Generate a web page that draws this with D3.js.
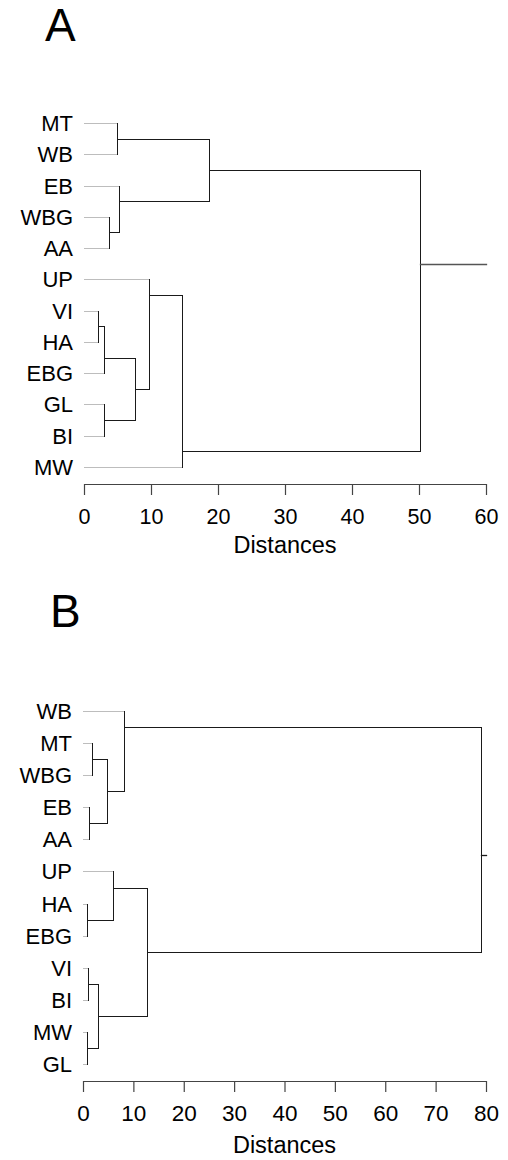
<!DOCTYPE html>
<html>
  <head>
    <script src="https://cdn.jsdelivr.net/npm/d3@7"></script>
    <style>
      body { margin: 0; background: #fff; }
      text { font-family: "Liberation Sans", Arial, sans-serif; fill: #000; }
    </style>
  </head>
  <body>
    <svg id="dendrograms" width="508" height="1160"></svg>
    <script>
      // leaf order as drawn, top to bottom
      var leavesA = ["MT", "WB", "EB", "WBG", "AA", "UP", "VI", "HA", "EBG", "GL", "BI", "MW"];
      // [upper child, lower child, distance] -- a number points to an earlier merge
      var mergesA = [
        ["MT", "WB", 4.9],
        ["WBG", "AA", 3.7],
        ["EB", 1, 5.2],
        [0, 2, 18.6],
        ["VI", "HA", 2.1],
        [4, "EBG", 2.95],
        ["GL", "BI", 3.0],
        [5, 6, 7.6],
        ["UP", 7, 9.65],
        [8, "MW", 14.6],
        [3, 9, 50.1]
      ];
      var ticksA = [0, 10, 20, 30, 40, 50, 60];

      var leavesB = ["WB", "MT", "WBG", "EB", "AA", "UP", "HA", "EBG", "VI", "BI", "MW", "GL"];
      var mergesB = [
        ["MT", "WBG", 1.85],
        ["EB", "AA", 1.25],
        [0, 1, 4.7],
        ["WB", 2, 8.1],
        ["HA", "EBG", 0.75],
        ["UP", 4, 5.9],
        ["VI", "BI", 1.05],
        ["MW", "GL", 0.85],
        [6, 7, 3.05],
        [5, 8, 12.65],
        [3, 9, 79.0]
      ];
      var ticksB = [0, 10, 20, 30, 40, 50, 60, 70, 80];

      var svg = d3.select("#dendrograms");

      function drawDendrogram(cfg){
        var g = svg.append("g");
        var x = d3.scaleLinear().domain([0, d3.max(cfg.ticks)]).range(cfg.xRange);
        var y = d3.scalePoint().domain(cfg.leaves).range(cfg.yRange);
        var segs = [];

        // walk the tree; a node sits between the last leaf of its upper child
        // and the first leaf of its lower child
        function walk(ref){
          if(typeof ref === "string"){
            var i = cfg.leaves.indexOf(ref);
            return {y: y(ref), first: i, last: i, h: 0, leaf: true};
          }
          var m = cfg.merges[ref]
          , a = walk(m[0])
          , b = walk(m[1])
          , h = m[2];
          var ny = (y(cfg.leaves[a.last]) + y(cfg.leaves[b.first])) / 2;
          segs.push({x1: x(a.h), x2: x(h), y1: a.y, y2: a.y, leaf: a.leaf});
          segs.push({x1: x(b.h), x2: x(h), y1: b.y, y2: b.y, leaf: b.leaf});
          segs.push({x1: x(h), x2: x(h), y1: a.y, y2: b.y, leaf: false});
          return {y: ny, first: a.first, last: b.last, h: h, leaf: false};
        }
        var root = walk(cfg.merges.length - 1);
        segs.push({x1: x(root.h), x2: x(d3.max(cfg.ticks)), y1: root.y, y2: root.y, leaf: false, stub: true});

        // snap to pixel centres so the 1px strokes stay sharp
        var px = function(v){ return Math.round(v) + 0.5; };

        g.append("g").selectAll("line")
          .data(segs)
          .enter().append("line")
          .attr("x1", function(d){ return px(d.x1); })
          .attr("x2", function(d){ return px(d.x2); })
          .attr("y1", function(d){ return px(d.y1); })
          .attr("y2", function(d){ return px(d.y2); })
          .attr("stroke", function(d){ return d.leaf ? "#bdbdbd" : (d.stub ? cfg.stubColour : "#1a1a1a"); })
          .attr("stroke-width", function(d){ return d.stub ? 1.3 : 1; })
          .attr("stroke-linecap", "square");

        g.append("g").selectAll("text")
          .data(cfg.leaves)
          .enter().append("text")
          .attr("x", cfg.xRange[0] - 11)
          .attr("y", function(d){ return y(d) + 8; })
          .attr("text-anchor", "end")
          .style("font-size", "22px")
          .text(function(d){ return d; });

        var axis = g.append("g")
          .attr("transform", "translate(0," + cfg.axisY + ")")
          .call(d3.axisBottom(x).tickValues(cfg.ticks).tickSize(11).tickSizeOuter(0).tickPadding(cfg.tickPad));
        axis.select(".domain").attr("stroke", "#444").attr("stroke-width", 1.2);
        axis.selectAll(".tick line").attr("stroke", "#444").attr("stroke-width", 1.2);
        axis.selectAll(".tick text")
          .attr("fill", "#000")
          .style("font-family", "Liberation Sans, Arial, sans-serif")
          .style("font-size", cfg.tickFont);

        g.append("text")
          .attr("x", (cfg.xRange[0] + cfg.xRange[1]) / 2)
          .attr("y", cfg.titleY)
          .attr("text-anchor", "middle")
          .style("font-size", "23.5px")
          .text("Distances");

        g.append("text")
          .attr("x", cfg.letterX)
          .attr("y", cfg.letterY)
          .style("font-size", "46px")
          .text(cfg.letter);
      }

      drawDendrogram({
        letter: "A", letterX: 45, letterY: 41,
        leaves: leavesA, merges: mergesA, ticks: ticksA,
        xRange: [84, 486], yRange: [123, 467],
        axisY: 484, tickPad: 14, tickFont: "21.5px", titleY: 553,
        stubColour: "#555"
      });

      drawDendrogram({
        letter: "B", letterX: 50, letterY: 627,
        leaves: leavesB, merges: mergesB, ticks: ticksB,
        xRange: [83, 486], yRange: [711, 1064],
        axisY: 1081, tickPad: 13, tickFont: "22.5px", titleY: 1153,
        stubColour: "#1a1a1a"
      });
    </script>
  </body>
</html>
